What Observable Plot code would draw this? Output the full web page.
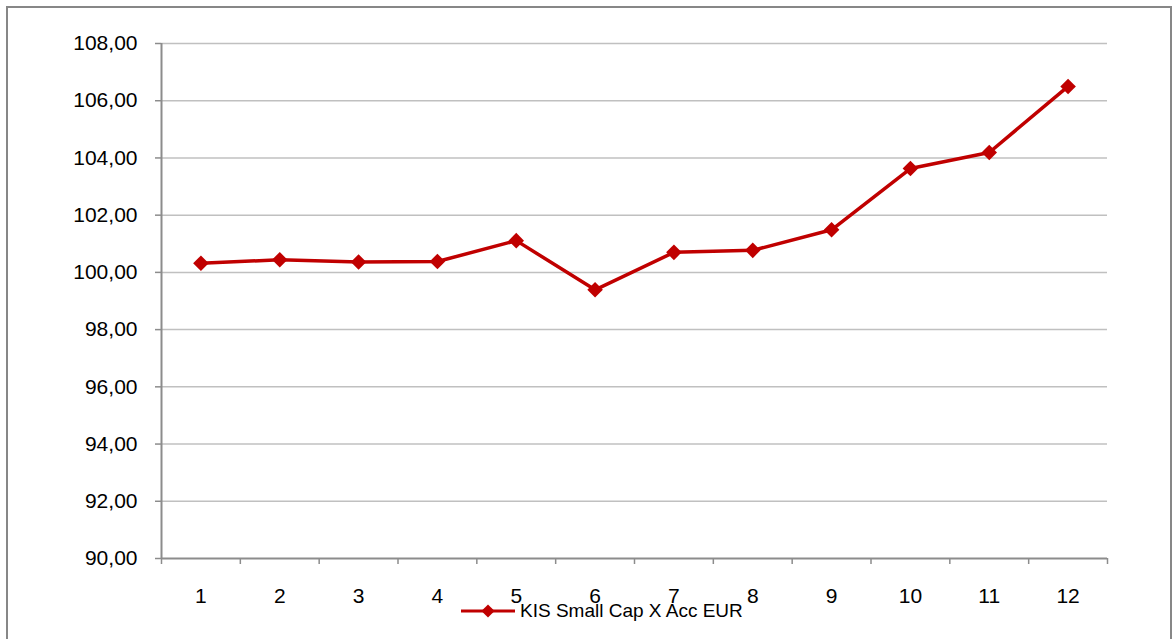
<!DOCTYPE html>
<html>
<head>
<meta charset="utf-8">
<script src="https://cdn.jsdelivr.net/npm/d3@7"></script>
<script src="https://cdn.jsdelivr.net/npm/@observablehq/plot@0.6"></script>
<style>
  html, body { margin: 0; padding: 0; background: #fff; }
  #wrap { position: relative; width: 1174px; height: 639px; overflow: hidden; font-family: "Liberation Sans", Arial, sans-serif; }
  #frame { position: absolute; left: 6px; top: 6px; width: 1166px; height: 700px; border: 2px solid #878787; box-sizing: border-box; }
  #chart { position: absolute; left: 0; top: 0; }
  #legend { position: absolute; left: 460px; top: 600px; display: flex; align-items: center; font-size: 19px; color: #000; white-space: nowrap; }
  #legend svg { display: block; margin-right: 5px; }
</style>
</head>
<body>
<div id="wrap">
  <div id="frame"></div>
  <div id="chart"></div>
  <div id="legend"></div>
</div>
<script>
const periods = [1, 2, 3, 4, 5, 6, 7, 8, 9, 10, 11, 12];
const values = [100.32, 100.44, 100.36, 100.38, 101.11, 99.39, 100.70, 100.77, 101.49, 103.63, 104.19, 106.50];
const yTicks = [90, 92, 94, 96, 98, 100, 102, 104, 106, 108];
const seriesName = "KIS Small Cap X Acc EUR";

const lineColor = "#c00000";
const axisColor = "#8c8c8c";
const gridColor = "#c0c0c0";

const data = periods.map((p, i) => ({period: p, value: values[i]}));
const boundaries = d3.range(0.5, periods.length + 1, 1);
const fmt = d => d.toFixed(2).replace(".", ",");

const chart = Plot.plot({
  width: 1174,
  height: 639,
  marginLeft: 161,
  marginRight: 67,
  marginTop: 43,
  marginBottom: 81,
  style: {fontFamily: "'Liberation Sans', Arial, sans-serif", background: "transparent", color: "#000"},
  x: {type: "linear", domain: [0.5, periods.length + 0.5], axis: null},
  y: {domain: [90, 108], axis: null},
  marks: [
    Plot.gridY(yTicks.slice(1), {stroke: gridColor, strokeOpacity: 1, strokeWidth: 1.5}),
    Plot.axisY(yTicks, {tickSize: 6, tickPadding: 18, fontSize: 21, tickFormat: fmt, stroke: axisColor, strokeWidth: 1.5, label: null}),
    Plot.axisX(boundaries, {tickSize: 6, tickFormat: () => "", stroke: axisColor, strokeWidth: 1.5, label: null}),
    Plot.axisX(periods, {tickSize: 0, tickPadding: 30, fontSize: 21, tickFormat: d => String(d), label: null}),
    Plot.ruleX([0.5], {y1: 90, y2: 108, stroke: axisColor, strokeWidth: 2}),
    Plot.ruleY([90], {stroke: axisColor, strokeWidth: 2}),
    Plot.line(data, {x: "period", y: "value", stroke: lineColor, strokeWidth: 3.5}),
    Plot.dot(data, {x: "period", y: "value", symbol: "diamond2", r: 7, fill: lineColor, stroke: null})
  ]
});
document.getElementById("chart").appendChild(chart);

// legend swatch + label
const legend = document.getElementById("legend");
const sw = d3.create("svg").attr("width", 55).attr("height", 20);
sw.append("line").attr("x1", 1).attr("x2", 55).attr("y1", 10).attr("y2", 10).attr("stroke", lineColor).attr("stroke-width", 3);
sw.append("path").attr("d", d3.symbol(d3.symbolDiamond2, 110)()).attr("transform", "translate(28,10)").attr("fill", lineColor);
legend.appendChild(sw.node());
const lt = document.createElement("span");
lt.textContent = seriesName;
legend.appendChild(lt);
</script>
</body>
</html>
